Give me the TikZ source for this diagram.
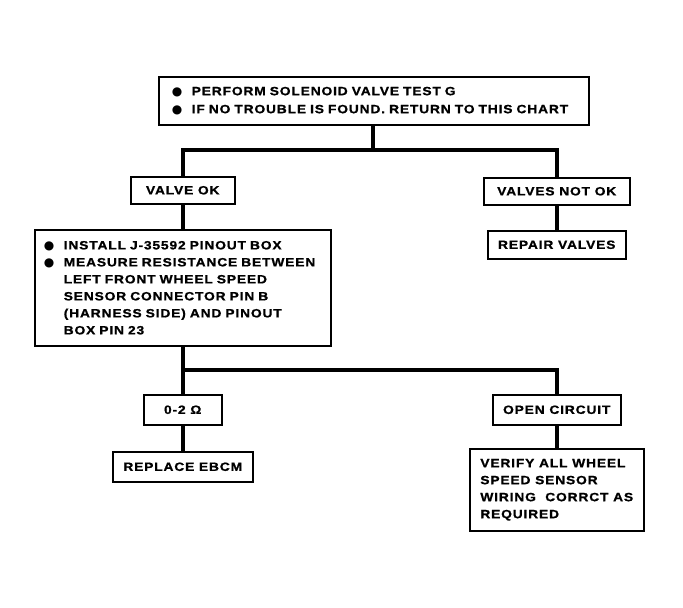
\documentclass[tikz,border=0pt]{standalone}
\usepackage{fontspec}
\usepackage{tikz}
\newfontfamily\chartfont[FakeStretch=1.15, LetterSpace=7, FakeBold=1]{Liberation Sans}
\newfontfamily\dotfont{DejaVu Sans}
\def\chartdot{\makebox[20pt][l]{\dotfont\fontsize{12}{12}\selectfont ●}}
\def\chartgap{\hspace*{20pt}}

\begin{document}
\begin{tikzpicture}[x=1pt, y=-1pt,
		box/.style={draw, line width=1.5pt, anchor=north west, inner sep=0pt, align=left, font=\chartfont\bfseries\fontsize{12}{17}\selectfont},
		link/.style={line width=4.5pt, line join=miter}]
			%%%%% START %%%%%
			
			\useasboundingbox (0,0) rectangle (683,608);
			
			\node[box, inner xsep=13, text width=404, minimum height=48] (test) at (158,76) {\chartdot PERFORM SOLENOID VALVE TEST G\\[1pt]\chartdot IF NO TROUBLE IS FOUND. RETURN TO THIS CHART};
			
			\node[box, minimum width=104, minimum height=27] (valveok) at (130,176) {VALVE OK};
			\node[box, minimum width=146, minimum height=27] (notok) at (483,177) {VALVES NOT OK};
			\node[box, minimum width=138, minimum height=28] (repair) at (487,230) {REPAIR VALVES};
			
			\node[box, inner xsep=9, text width=278, minimum height=116] (measure) at (34,229) {\chartdot INSTALL J-35592 PINOUT BOX\\\chartdot MEASURE RESISTANCE BETWEEN\\\chartgap LEFT FRONT WHEEL SPEED\\\chartgap SENSOR CONNECTOR PIN B\\\chartgap (HARNESS SIDE) AND PINOUT\\\chartgap BOX PIN 23};
			
			\node[box, minimum width=78, minimum height=30] (ohm) at (143,394) {0-2 Ω};
			\node[box, minimum width=140, minimum height=30] (ebcm) at (112,451) {REPLACE EBCM};
			\node[box, minimum width=128, minimum height=30] (open) at (492,394) {OPEN CIRCUIT};
			\node[box, minimum width=174, minimum height=82] (verify) at (469,448) {VERIFY ALL WHEEL\\SPEED SENSOR\\WIRING\ \ CORRCT AS\\REQUIRED};
			
			\coordinate (fork1) at (373,150);
			\coordinate (fork2) at (182,370);
			
			\draw[link] (test.south -| fork1) -- (fork1);
			\draw[link] (valveok.north) |- (fork1) -| (notok.north);
			\draw[link] (valveok.south) -- (measure.north);
			\draw[link] (notok.south) -- (repair.north);
			
			\draw[link] (measure.south) -- (ohm.north);
			\draw[link] (fork2) -| (open.north);
			\draw[link] (ohm.south) -- (ebcm.north);
			\draw[link] (open.south) -- (verify.north);
			
			%%%%% END %%%%%
		\end{tikzpicture}
\end{document}
